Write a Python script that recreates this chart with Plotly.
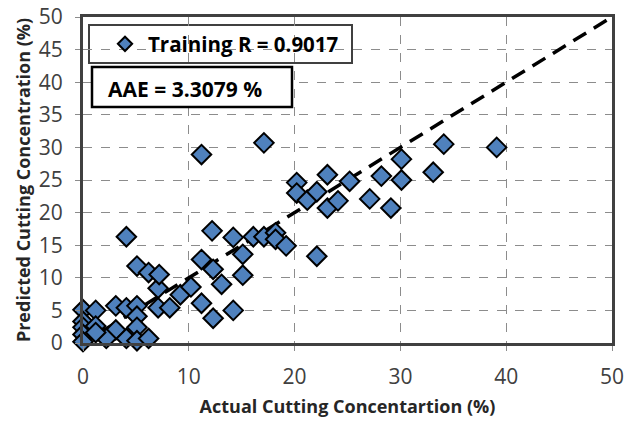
import plotly.graph_objects as go

actual = [0, 1.2, 3.1, 4.1, 5.1, 5.1, 7.1, 8.2, 5.1, 3.1, 2.2, 4.1, 5.1, 6.2, 0, 0, 1.2, 0, 1.2, 0,
          7.1, 9.2, 10.2, 11.2, 12.3, 14.2, 5.1, 6.2, 7.2, 4.1, 11.2, 12.3, 13.1, 15.1, 15.1, 14.2,
          12.2, 16.1, 17.1, 18.2, 18.2, 19.2, 22.1, 20.2, 20.2, 21.2, 22.1, 23.1, 23.1, 24.1, 25.2,
          27.1, 28.2, 29.1, 30.1, 30.1, 33.1, 34.1, 39.1, 17.1, 11.2]
predicted = [5.1, 5.0, 5.7, 5.4, 5.7, 4.1, 5.4, 5.4, 2.4, 2.0, 0.7, 0.7, 0.35, 0.7, 3.3, 2.4, 2.6, 1.3, 1.6, 0.2,
             8.4, 7.4, 8.6, 6.1, 3.8, 5.0, 11.8, 10.8, 10.5, 16.3, 12.8, 11.3, 9.0, 10.4, 13.6, 16.2,
             17.2, 16.3, 16.3, 16.9, 15.9, 14.9, 13.3, 24.6, 23.0, 21.9, 23.2, 25.8, 20.7, 21.8, 24.8,
             22.1, 25.6, 20.7, 28.2, 25.0, 26.2, 30.5, 30.0, 30.7, 28.9]
ideal = [0, 50]
x_ticks = [0, 10, 20, 30, 40, 50]
y_ticks = [0, 5, 10, 15, 20, 25, 30, 35, 40, 45, 50]
legend_text = "Training R = 0.9017"
aae_text = "AAE = 3.3079 %"

FONT = "Open Sans"
PW, PH = 529, 326  # plot area size in px

fig = go.Figure()
fig.add_trace(go.Scatter(
    x=ideal, y=ideal, mode="lines",
    line=dict(color="black", width=3.5, dash="15px,9px"),
    showlegend=False, hoverinfo="skip"))
fig.add_trace(go.Scatter(
    x=actual, y=predicted, mode="markers", name=legend_text,
    marker=dict(symbol="diamond", size=15, color="#4F81BD",
                line=dict(color="black", width=2)),
    cliponaxis=False, showlegend=False))
# legend entry (same styling, smaller symbol as in the reference legend)
fig.add_trace(go.Scatter(
    x=[None], y=[None], mode="markers", name="<b>" + legend_text + "</b>",
    marker=dict(symbol="diamond", size=11, color="#4F81BD",
                line=dict(color="black", width=2)),
    showlegend=True))

axis_common = dict(
    showgrid=True, gridcolor="#8c8c8c", gridwidth=1, griddash="dash",
    showline=True, linecolor="#404040", linewidth=3, mirror=True,
    zeroline=False, ticks="outside", ticklen=5, tickcolor="#8c8c8c",
    tickfont=dict(family=FONT, size=21, color="#404040"),
    automargin=False,
)
fig.update_xaxes(range=[0, 50], tickvals=x_ticks, **axis_common, ticklabelstandoff=8,
                 title=dict(text="<b>Actual Cutting Concentartion (%)</b>",
                            font=dict(family=FONT, size=18, color="#262626"), standoff=12))
fig.update_yaxes(range=[0, 50], tickvals=y_ticks, **axis_common, ticklabelstandoff=8,
                 title=dict(text="<b>Predicted Cutting Concentration (%)</b>",
                            font=dict(family=FONT, size=18, color="#262626"), standoff=4))

fig.update_layout(
    width=627, height=422,
    margin=dict(l=83, r=15, t=17, b=79, autoexpand=False),
    plot_bgcolor="white", paper_bgcolor="white",
    showlegend=True,
    legend=dict(x=19 / PW, y=1 - 7 / PH, xanchor="left", yanchor="top",
                bgcolor="rgba(0,0,0,0)", borderwidth=0, itemwidth=36,
                font=dict(family=FONT, size=20.5, color="black")),
    shapes=[
        dict(type="rect", xref="paper", yref="paper",
             x0=6 / PW, x1=269 / PW, y0=1 - 46 / PH, y1=1 - 8 / PH,
             line=dict(color="#404040", width=2), fillcolor="white", layer="below"),
        dict(type="rect", xref="paper", yref="paper",
             x0=9 / PW, x1=209 / PW, y0=1 - 90 / PH, y1=1 - 50 / PH,
             line=dict(color="black", width=2.5), fillcolor="white"),
    ],
    annotations=[
        dict(text="<b>" + aae_text + "</b>", xref="paper", yref="paper",
             x=102 / PW, y=1 - 72 / PH, xanchor="center", yanchor="middle",
             showarrow=False, font=dict(family=FONT, size=21, color="black")),
    ],
)

fig.write_html("out.html")
